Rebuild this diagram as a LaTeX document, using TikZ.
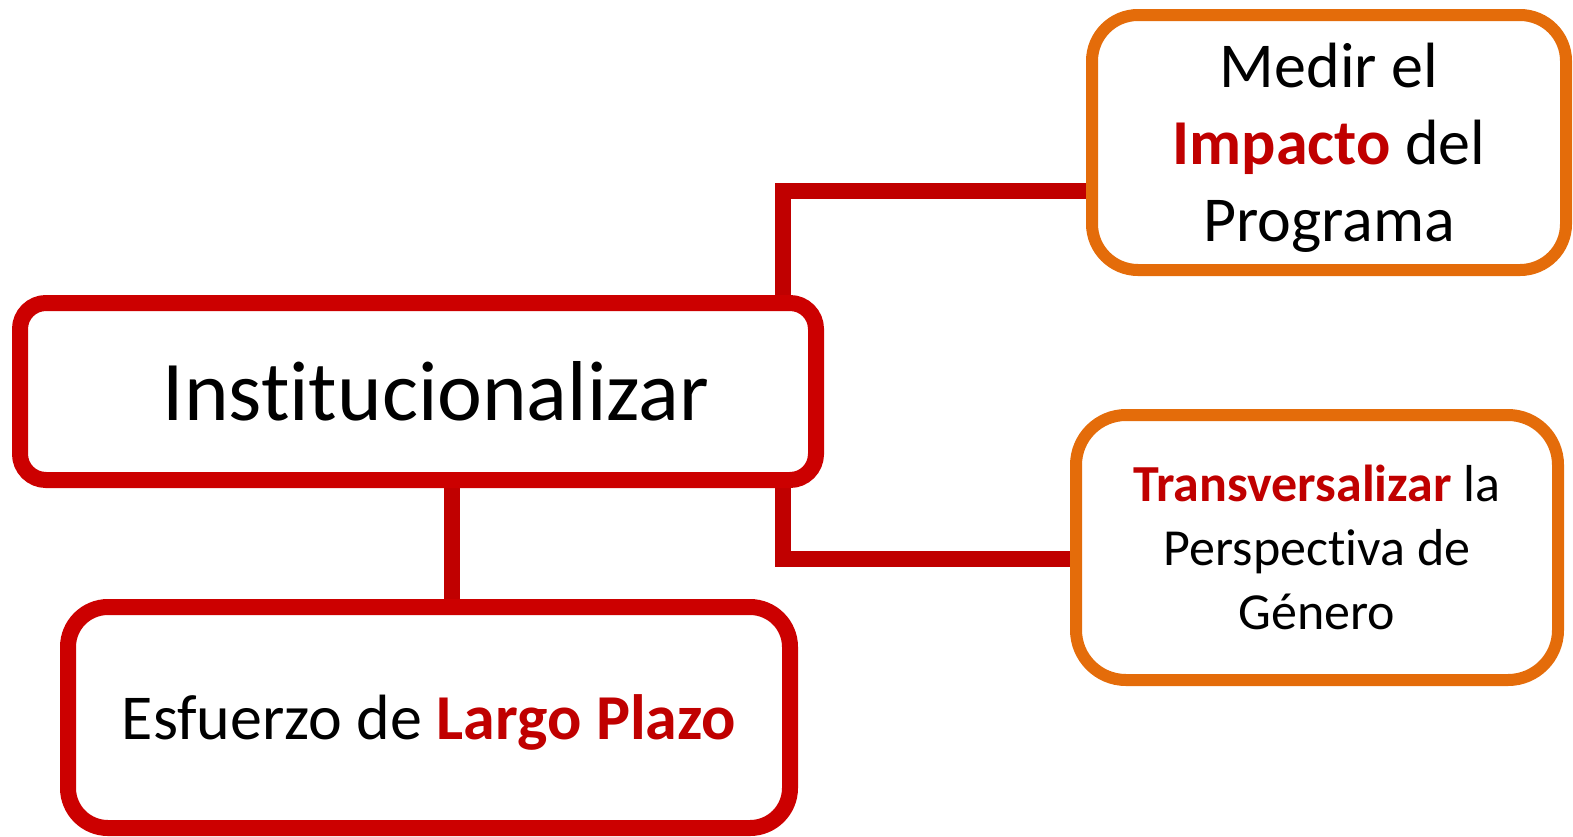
\documentclass[tikz,border=0pt]{standalone}
\usepackage{fontspec}
\setmainfont{Carlito}[Ligatures=NoCommon]
\usetikzlibrary{backgrounds}
\usetikzlibrary{shadows}
\definecolor{boxred}{HTML}{CC0000}
\definecolor{linkred}{HTML}{C00000}
\definecolor{boxorange}{HTML}{E46C0A}
\newcommand{\hl}[1]{\textcolor{linkred}{\textbf{#1}}}

\begin{document}
\begin{tikzpicture}[
      x=1pt, y=-1pt,
      box/.style={fill=white, align=center, inner sep=0pt, rectangle, text=black},
      box_red/.style={box, draw=boxred, line width=16pt,
        drop shadow={opacity=0.22, shadow xshift=1pt, shadow yshift=-5pt}},
      box_orange/.style={box, draw=boxorange, line width=12pt},
      link/.style={linkred, line width=16pt},
    ]
    \useasboundingbox (0,0) rectangle (1573,836);
    % Draw the boxes.
    \node[box_red, rounded corners=26pt, minimum width=796pt, minimum height=177pt,
      font=\fontsize{85}{100}\selectfont] (inst) at (418,391.5) {\hspace*{36pt}Institucionalizar};
    \node[box_red, rounded corners=40pt, minimum width=722pt, minimum height=221pt,
      text depth=0pt, font=\fontsize{64}{77}\selectfont] (plazo) at (429,717.5) {Esfuerzo de \hl{Largo Plazo}};
    \node[box_orange, rounded corners=46pt, minimum width=474pt, minimum height=255pt,
      text depth=0pt, font=\fontsize{64}{77}\selectfont] (impacto) at (1329,142.5) {Medir el\\\hl{Impacto} del\\Programa};
    \node[box_orange, rounded corners=50pt, minimum width=482pt, minimum height=265pt,
      font=\fontsize{52}{64}\selectfont] (genero) at (1317,547.5) {\hl{Transversalizar} la\\Perspectiva de\\Género};

    % Draw the connectors.
    \coordinate (up_corner) at (783,191);
    \coordinate (low_corner) at (783,559);
    \coordinate (mid_x) at (452,0);
    \begin{scope}[on background layer]
      \draw[link] (inst.north -| up_corner) |- (up_corner -| impacto.west);
      \draw[link] (inst.south -| low_corner) |- (low_corner -| genero.west);
      \draw[link] (inst.south -| mid_x) -- (plazo.north -| mid_x);
    \end{scope}
\end{tikzpicture}
\end{document}
